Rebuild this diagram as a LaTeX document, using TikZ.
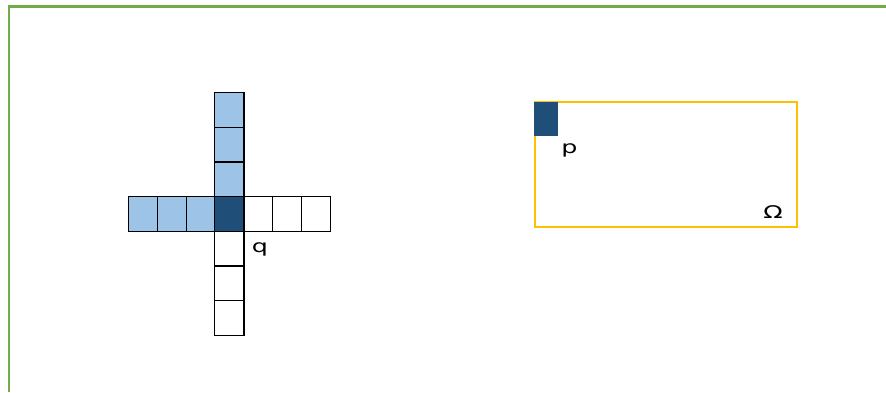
\documentclass[tikz,border=0pt]{standalone}
\usepackage{fontspec}
\setmainfont{DejaVu Sans}
\definecolor{lightcell}{HTML}{9DC3E6}
\definecolor{darkcell}{HTML}{1F4E79}
\definecolor{framegreen}{HTML}{70AD47}
\definecolor{domainyellow}{HTML}{FFC000}
\tikzset{
  cell/.style={draw=black, line width=1.4pt, inner sep=0pt, anchor=north west,
    minimum width=28.76pt, minimum height=34.67pt},
  lightc/.style={cell, fill=lightcell},
  darkc/.style={cell, fill=darkcell},
  emptyc/.style={cell, fill=white},
  lbl/.style={anchor=base, inner sep=0pt, font=\fontsize{17.5}{20}\selectfont, text=black},
}
\newcommand{\widetxt}[1]{\scalebox{1.45}[1]{#1}}
\begin{document}
\begin{tikzpicture}[x=1pt,y=-1pt]
\useasboundingbox (0,0) rectangle (886,392);
% green frame
\draw[framegreen, line width=2.6pt] (8.8,392) -- (8.8,6.5) -- (886,6.5);
% horizontal row
\node[lightc] (h1) at (128,196) {};
\node[lightc] (h2) at (156.76,196) {};
\node[lightc] (h3) at (185.52,196) {};
\node[emptyc] (h5) at (243.3,196) {};
\node[emptyc] (h6) at (272.06,196) {};
\node[emptyc] (h7) at (300.82,196) {};
% vertical column
\node[lightc, minimum width=29.3pt] (v1) at (214,92) {};
\node[lightc, minimum width=29.3pt] (v2) at (214,126.67) {};
\node[lightc, minimum width=29.3pt] (v3) at (214,161.33) {};
\node[emptyc, minimum width=29.3pt] (v5) at (214,230.67) {};
\node[emptyc, minimum width=29.3pt] (v6) at (214,265.33) {};
\node[emptyc, minimum width=29.3pt] (v7) at (214,300) {};
\node[darkc, minimum width=29.3pt] (c) at (214,196) {};
\node[lbl] (q) at (260,252.6) {\widetxt{q}};
% domain
\draw[domainyellow, line width=1.8pt] (534.7,102) rectangle (796.7,227.3);
\node[fill=darkcell, inner sep=0pt, anchor=north west, minimum width=24pt, minimum height=34.7pt] (pcell) at (534,101.3) {};
\node[lbl] (p) at (569.5,153.4) {\widetxt{p}};
\node[lbl] (omega) at (773,218) {\widetxt{Ω}};
\end{tikzpicture}
\end{document}
